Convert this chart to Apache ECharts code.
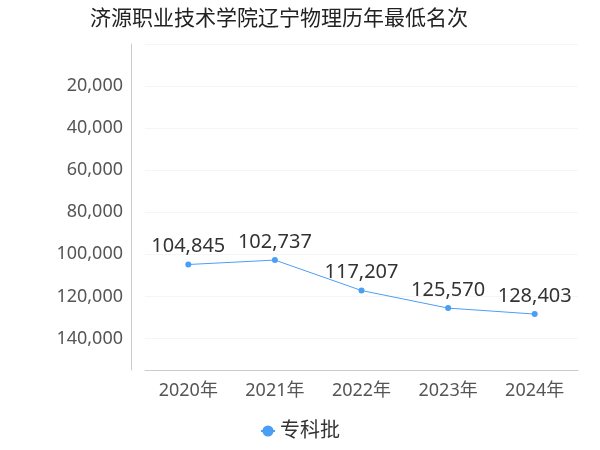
<!DOCTYPE html><html><head><meta charset="utf-8"><script src="https://cdn.jsdelivr.net/npm/echarts@6/dist/echarts.min.js"></script></head><body style="margin:0"><div id="c" style="width:600px;height:450px"></div><script>
const categories=['2020年','2021年','2022年','2023年','2024年'];
const values=[104845,102737,117207,125570,128403];
const yTicks=[20000,40000,60000,80000,100000,120000,140000];
const F='Noto Sans, Noto Sans CJK SC';
const c=echarts.init(document.getElementById('c'));
c.setOption({
textStyle:{fontFamily:F},
title:{text:'济源职业技术学院辽宁物理历年最低名次',left:85,top:4,textStyle:{fontSize:21,fontWeight:'normal',color:'#222',fontFamily:F}},
grid:{left:145,right:22,top:44,bottom:80},
legend:{bottom:4,left:'center',itemWidth:14,textStyle:{fontSize:20,color:'#333',fontFamily:F},data:['专科批']},
xAxis:{type:'category',position:'bottom',data:categories,axisTick:{show:false},axisLine:{onZero:false,lineStyle:{color:'#ccc'}},axisLabel:{fontSize:18,color:'#555',margin:12,fontFamily:F}},
yAxis:{type:'value',inverse:true,min:0,max:155000,interval:20000,offset:14,axisLine:{show:true,lineStyle:{color:'#ccc'}},axisLabel:{fontSize:18,color:'#555',showMinLabel:false,showMaxLabel:false,fontFamily:F,formatter:v=>v.toLocaleString('en-US')},splitLine:{lineStyle:{color:'#f5f5f5'}}},
series:[{name:'专科批',type:'line',data:values,symbol:'circle',symbolSize:6,itemStyle:{color:'#4a9ff5'},lineStyle:{width:1},label:{show:true,fontSize:20,color:'#333',fontFamily:F,formatter:p=>p.value.toLocaleString('en-US')}}]
});
</script></body></html>
